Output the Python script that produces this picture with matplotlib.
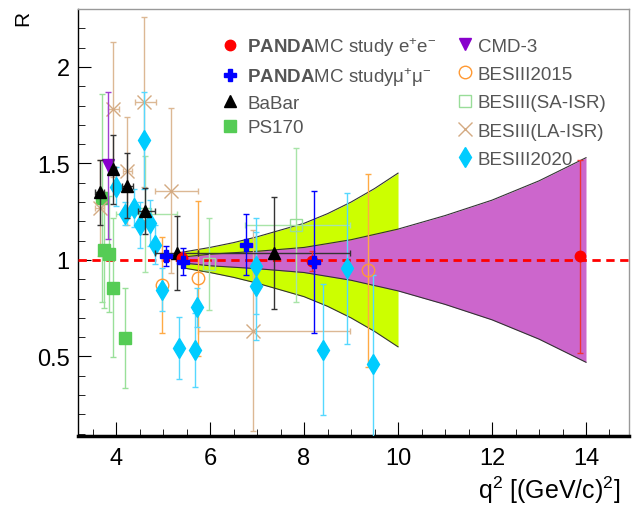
import numpy as np
import matplotlib
matplotlib.use('Agg')
import matplotlib.pyplot as plt
from matplotlib.lines import Line2D
from matplotlib.ticker import MultipleLocator, FuncFormatter

plt.rcParams['font.family'] = 'Liberation Sans'
plt.rcParams['mathtext.fontset'] = 'custom'
plt.rcParams['mathtext.rm'] = 'Liberation Sans'
plt.rcParams['mathtext.it'] = 'Liberation Sans:italic'
plt.rcParams['mathtext.bf'] = 'Liberation Sans:bold'

# PANDA MC study e+e- (red)
ee_q = [5.40, 8.16, 13.87]
ee_R = [1.01, 0.995, 1.02]
ee_err = [0.03, 0.05, 0.50]

# PANDA MC study mu+mu- (blue)
mm_q = [5.06, 5.42, 6.76, 8.22]
mm_R = [1.02, 0.99, 1.08, 0.99]
mm_err = [0.05, 0.07, 0.16, 0.37]

# BaBar
babar_q = [3.65, 3.94, 4.24, 4.62, 5.29, 7.36]
babar_R = [1.35, 1.47, 1.385, 1.255, 1.036, 1.036]
babar_err = [0.17, 0.18, 0.17, 0.12, 0.19, 0.29]
babar_qlo = [0.10, 0.05, 0.11, 0.15, 0.46, 1.61]
babar_qhi = [0.10, 0.05, 0.11, 0.21, 0.46, 1.62]

# PS170
ps_q = [3.70, 3.75, 3.84, 3.94, 4.18]
ps_R = [1.32, 1.05, 1.03, 0.855, 0.596]
ps_err = [0.54, 0.30, 0.30, 0.36, 0.26]

# CMD-3
cmd_q = [3.82]
cmd_R = [1.49]
cmd_err = [0.38]

# BESIII 2015
b15_q = [4.97, 5.75, 9.37]
b15_R = [0.87, 0.905, 0.948]
b15_err = [0.25, 0.40, 0.50]

# BESIII small angle ISR
sa_q = [4.62, 5.98, 7.83]
sa_R = [1.24, 0.98, 1.18]
sa_err = [0.30, 0.24, 0.40]
sa_qlo = [0.63, 0.0, 1.09]
sa_qhi = [0.67, 0.0, 1.15]

# BESIII large angle ISR
la_q = [3.65, 3.94, 4.24, 4.60, 5.17, 6.92]
la_R = [1.27, 1.78, 1.46, 1.82, 1.36, 0.634]
la_err = [0.25, 0.35, 0.28, 0.44, 0.43, 0.52]
la_qlo = [0.10, 0.12, 0.10, 0.20, 0.34, 1.17]
la_qhi = [0.10, 0.12, 0.10, 0.24, 0.58, 2.06]

# BESIII 2020
b20_q = [3.99, 4.19, 4.39, 4.51, 4.60, 4.72, 4.83, 4.97, 5.33, 5.68, 5.73, 6.98, 6.98, 8.40, 8.91, 9.46]
b20_R = [1.38, 1.24, 1.27, 1.18, 1.62, 1.19, 1.08, 0.846, 0.544, 0.534, 0.755, 0.97, 0.864, 0.535, 0.957, 0.46]
b20_err = [0.10, 0.06, 0.10, 0.12, 0.25, 0.12, 0.10, 0.11, 0.16, 0.19, 0.10, 0.25, 0.28, 0.34, 0.39, 0.46]

# projected uncertainty bands (half width around R=1)
mu_band_q = [5.4, 6.0, 6.5, 7.0, 7.5, 8.0, 8.5, 9.0, 9.5, 10.0]
mu_band_w = [0.04, 0.065, 0.09, 0.12, 0.155, 0.19, 0.24, 0.30, 0.37, 0.45]
ee_band_q = [5.4, 6.0, 7.0, 8.0, 9.0, 10.0, 11.0, 12.0, 13.0, 14.0]
ee_band_w = [0.015, 0.03, 0.045, 0.065, 0.105, 0.16, 0.23, 0.31, 0.41, 0.53]

fig = plt.figure(figsize=(6.32, 5.06), dpi=100)
ax = fig.add_axes([78/632, 1-437/506, 551/632, 427.5/506])

# bands
mq = np.array(mu_band_q); mw = np.array(mu_band_w)
ax.fill_between(mq, 1-mw, 1+mw, color='#ccff00', lw=0, zorder=1)
ax.plot(mq, 1+mw, color='#333333', lw=0.8, zorder=1.5)
ax.plot(mq, 1-mw, color='#333333', lw=0.8, zorder=1.5)
eq = np.array(ee_band_q); ew = np.array(ee_band_w)
ax.fill_between(eq, 1-ew, 1+ew, color='#cc66cc', lw=0, zorder=2)
ax.plot(eq, 1+ew, color='#333333', lw=0.8, zorder=2.5)
ax.plot(eq, 1-ew, color='#333333', lw=0.8, zorder=2.5)

ax.axhline(1, color='red', ls=(0, (3, 2)), lw=2, zorder=3)

cap = 2
ax.errorbar(ps_q, ps_R, yerr=ps_err, fmt='s', color='#55cc55', ecolor='#99e099', ms=8, elinewidth=1, capsize=cap, zorder=4)
ax.errorbar(sa_q, sa_R, yerr=sa_err, xerr=[sa_qlo, sa_qhi], fmt='s', mfc='none', mec='#99dd99', ecolor='#a8e4a8', ms=9, mew=1, elinewidth=1, capsize=cap, zorder=4)
ax.errorbar(la_q, la_R, yerr=la_err, xerr=[la_qlo, la_qhi], fmt='x', color='#d4aa82', ecolor='#dcb894', ms=10, mew=1, elinewidth=1, capsize=cap, zorder=4)
ax.errorbar(cmd_q, cmd_R, yerr=cmd_err, fmt='v', color='#8800cc', ecolor='#a040d0', ms=8, elinewidth=1, capsize=cap, zorder=5)
ax.errorbar(b15_q, b15_R, yerr=b15_err, fmt='o', mfc='none', mec='#ff9933', ecolor='#ffaa44', ms=9, mew=1, elinewidth=1, capsize=cap, zorder=5)
ax.errorbar(b20_q, b20_R, yerr=b20_err, fmt='d', color='#00ccff', ecolor='#55d8ff', ms=10, elinewidth=1, capsize=cap, zorder=5)
ax.errorbar(babar_q, babar_R, yerr=babar_err, xerr=[babar_qlo, babar_qhi], fmt='^', color='black', ecolor='#333333', ms=8, elinewidth=1, capsize=cap, zorder=6)
ax.errorbar(ee_q, ee_R, yerr=ee_err, fmt='o', color='red', ecolor='#ee3333', ms=7.5, elinewidth=1, capsize=cap, zorder=6)
ax.errorbar(mm_q, mm_R, yerr=mm_err, fmt='P', color='blue', ecolor='blue', ms=9, elinewidth=1, capsize=cap, zorder=7)

ax.set_xlim(3.19, 14.915)
ax.set_ylim(0.088, 2.303)

# legend, two columns like the ROOT version
h1 = [Line2D([], [], ls='none', marker='o', color='red', ms=7.5),
      Line2D([], [], ls='none', marker='P', color='blue', ms=9),
      Line2D([], [], ls='none', marker='^', color='black', ms=8),
      Line2D([], [], ls='none', marker='s', color='#55cc55', ms=8)]
l1 = [r'$\mathbf{PANDA}$MC study e$^{+}$e$^{-}$',
      r'$\mathbf{PANDA}$MC studyμ$^{+}$μ$^{-}$',
      'BaBar', 'PS170']
h2 = [Line2D([], [], ls='none', marker='v', color='#8800cc', ms=8),
      Line2D([], [], ls='none', marker='o', mfc='none', mec='#ff9933', ms=9),
      Line2D([], [], ls='none', marker='s', mfc='none', mec='#99dd99', ms=9),
      Line2D([], [], ls='none', marker='x', color='#d4aa82', ms=10),
      Line2D([], [], ls='none', marker='d', color='#00ccff', ms=10)]
l2 = ['CMD-3', 'BESIII2015', 'BESIII(SA-ISR)', 'BESIII(LA-ISR)', 'BESIII2020']
leg1 = ax.legend(h1, l1, loc='upper left', bbox_to_anchor=(0.246, 0.955), frameon=False,
                 fontsize=13.5, labelcolor='#555555', handlelength=1, handletextpad=0.4,
                 labelspacing=0.38, borderaxespad=0)
ax.add_artist(leg1)
ax.legend(h2, l2, loc='upper left', bbox_to_anchor=(0.671, 0.95), frameon=False,
          fontsize=13.5, labelcolor='#555555', handlelength=1, handletextpad=0.2,
          labelspacing=0.6, borderaxespad=0)

# axes look
for s in ['top', 'right']:
    ax.spines[s].set_color('#999999')
    ax.spines[s].set_linewidth(1)
ax.spines['left'].set_linewidth(1)
ax.spines['bottom'].set_linewidth(2.5)
ax.xaxis.set_major_locator(MultipleLocator(2))
ax.xaxis.set_minor_locator(MultipleLocator(0.5))
ax.yaxis.set_major_locator(MultipleLocator(0.5))
ax.yaxis.set_minor_locator(MultipleLocator(0.1))
ax.yaxis.set_major_formatter(FuncFormatter(lambda v, p: '%g' % v))
ax.tick_params(which='both', direction='in', labelsize=17, top=False, right=False)
ax.tick_params(axis='y', which='major', length=9, pad=6)
ax.tick_params(axis='y', which='minor', length=5)
ax.tick_params(axis='x', which='major', length=10, pad=8)
ax.tick_params(axis='x', which='minor', length=5)

fig.text(0.982, 1-490/506, r'q$^{2}$ [(GeV/c)$^{2}$]', ha='right', va='center', fontsize=18)
fig.text(23/632, 1-18/506, 'R', rotation=90, ha='center', va='center', fontsize=15)

fig.savefig('out.png', dpi=100)
